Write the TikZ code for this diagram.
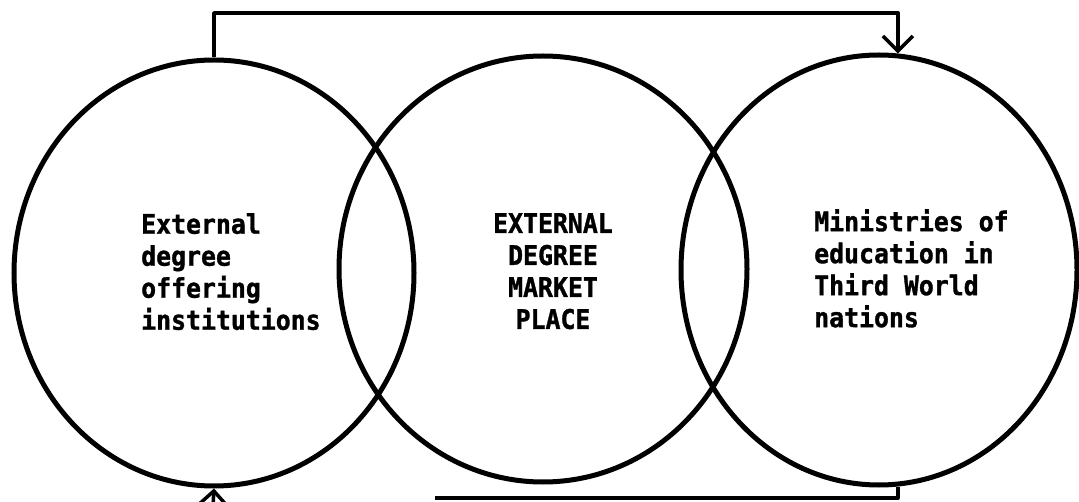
\documentclass[tikz,border=0pt]{standalone}
\usepackage{fontspec}
\newfontfamily\typewr[FakeStretch=0.92, BoldFeatures={FakeBold=1.2}]{DejaVu Sans Mono}
\usepackage{tikz}
\usetikzlibrary{
  arrows.meta,
  positioning,
  shapes.geometric
}

\begin{document}
\begin{tikzpicture}[
			x=1pt, y=-1pt,
			ring/.style={draw, ellipse, line width=5pt, minimum width=400pt,
				minimum height=426pt, inner sep=0pt},
			lbl/.style={font=\typewr\bfseries\fontsize{27}{32}\selectfont,
				inner sep=0pt},
			ln/.style={line width=3.5pt, line join=round},
			tip/.style={-{Straight Barb[length=15pt, width=30pt, line width=3.5pt]}}
			]
			\useasboundingbox (0,0) rectangle (1079,502);
			% circles
			\node[ring] (inst) at (214,273) {};
			\node[ring, minimum width=408pt] (mkt) at (543,269) {};
			\node[ring, minimum width=396pt, minimum height=430pt] (min) at (879,270) {};
			% texts
			\node[lbl, align=left, anchor=north west] (instT) at (141,213)
			{External\\degree\\offering\\institutions};
			\node[lbl, align=center, anchor=north] (mktT) at (553,213)
			{EXTERNAL\\DEGREE\\MARKET\\PLACE};
			\node[lbl, align=left, anchor=north west] (minT) at (814,209)
			{Ministries of\\education in\\Third World\\nations};
			% connectors
			\coordinate (topbar) at (0,13);
			\coordinate (botstub) at (213,506);
			\coordinate (botend) at (435,498);
			\draw[ln, tip] (inst.north) |- (topbar -| min.85) -- (min.85);
			\draw[ln, tip] (botstub) -- (inst.south);
			\draw[ln] (min.275) |- (botend);
	\end{tikzpicture}
\end{document}
